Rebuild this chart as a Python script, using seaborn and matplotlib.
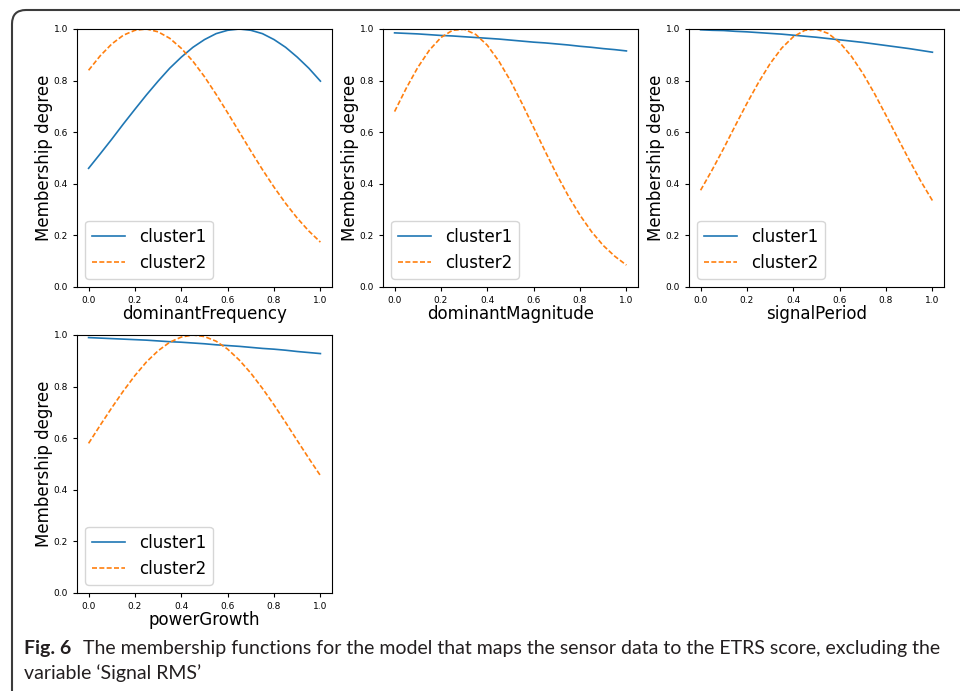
#!/usr/bin/env python3

'''
Funciones de pertenencia (clusters) para las variables del modelo ETRS.
'''

import matplotlib
matplotlib.use('Agg')
import matplotlib.pyplot as plt
from matplotlib.patches import FancyBboxPatch
import seaborn as sns

# valores, x de 0 a 1 cada 0.05
x_grid = [0.00, 0.05, 0.10, 0.15, 0.20, 0.25, 0.30, 0.35, 0.40, 0.45, 0.50,
          0.55, 0.60, 0.65, 0.70, 0.75, 0.80, 0.85, 0.90, 0.95, 1.00]

freq_c1 = [0.460, 0.516, 0.573, 0.632, 0.689, 0.745, 0.798, 0.848, 0.891, 0.929, 0.959,
           0.982, 0.995, 1.000, 0.995, 0.982, 0.959, 0.929, 0.891, 0.848, 0.798]
freq_c2 = [0.840, 0.896, 0.942, 0.976, 0.995, 1.000, 0.989, 0.964, 0.925, 0.875, 0.815,
           0.747, 0.675, 0.601, 0.527, 0.455, 0.387, 0.324, 0.267, 0.217, 0.174]

magn_c1 = [0.985, 0.983, 0.981, 0.978, 0.975, 0.973, 0.970, 0.967, 0.964, 0.961, 0.957,
           0.953, 0.949, 0.946, 0.942, 0.938, 0.933, 0.929, 0.924, 0.920, 0.915]
magn_c2 = [0.680, 0.770, 0.851, 0.918, 0.967, 0.995, 0.999, 0.979, 0.937, 0.875, 0.799,
           0.711, 0.618, 0.525, 0.435, 0.352, 0.278, 0.214, 0.161, 0.119, 0.085]

period_c1 = [0.997, 0.995, 0.994, 0.991, 0.989, 0.986, 0.983, 0.980, 0.976, 0.972, 0.968,
             0.963, 0.958, 0.953, 0.948, 0.942, 0.936, 0.930, 0.924, 0.917, 0.910]
period_c2 = [0.375, 0.454, 0.538, 0.626, 0.712, 0.793, 0.866, 0.926, 0.970, 0.995, 0.999,
             0.983, 0.948, 0.895, 0.828, 0.750, 0.665, 0.578, 0.492, 0.410, 0.335]

growth_c1 = [0.990, 0.988, 0.986, 0.984, 0.982, 0.980, 0.977, 0.974, 0.972, 0.969, 0.966,
             0.962, 0.959, 0.956, 0.952, 0.948, 0.945, 0.941, 0.936, 0.932, 0.928]
growth_c2 = [0.580, 0.650, 0.718, 0.783, 0.843, 0.896, 0.939, 0.972, 0.992, 1.000, 0.994,
             0.976, 0.945, 0.903, 0.852, 0.793, 0.729, 0.661, 0.591, 0.522, 0.455]

variables = ['dominantFrequency', 'dominantMagnitude', 'signalPeriod', 'powerGrowth']
series = [(freq_c1, freq_c2), (magn_c1, magn_c2), (period_c1, period_c2), (growth_c1, growth_c2)]
clusters = ['cluster1', 'cluster2']
ticks = [0.0, 0.2, 0.4, 0.6, 0.8, 1.0]

W, H = 960, 691
fig = plt.figure(figsize=(W / 100, H / 100), dpi=100)

# recuadro redondeado de la figura del articulo
marco = FancyBboxPatch((0.12, -1.0), 12.0, 7.81,
                       boxstyle='round,pad=0,rounding_size=0.14',
                       transform=fig.dpi_scale_trans, fill=False,
                       edgecolor='#3c3c3c', linewidth=1.5)
fig.add_artist(marco)

# posiciones de los ejes en pixeles: izquierda, arriba
posiciones = [(77, 29), (383, 29), (689, 29), (77, 335)]
ax_w, ax_h = 255, 258

for (izq, arr), nombre, (c1, c2) in zip(posiciones, variables, series):
    ax = fig.add_axes([izq / W, (H - arr - ax_h) / H, ax_w / W, ax_h / H])
    sns.lineplot(x=x_grid, y=c1, ax=ax, color='#1f77b4', linewidth=1.2,
                 label=clusters[0])
    sns.lineplot(x=x_grid, y=c2, ax=ax, color='#ff7f0e', linewidth=1.2,
                 linestyle=(0, (3.0, 1.4)), label=clusters[1])
    ax.set_ylim(0, 1)
    ax.set_xticks(ticks)
    ax.set_yticks(ticks)
    ax.tick_params(labelsize=6.5, length=3, width=0.8)
    ax.set_xlabel(nombre, fontsize=12)
    ax.set_ylabel('Membership degree', fontsize=12)
    ax.xaxis.set_label_coords(0.5, -0.068)
    ax.yaxis.set_label_coords(-0.094, 0.5)
    ax.legend(loc='lower left', fontsize=12)

# pie de figura
cap_font = ['Lato', 'DejaVu Sans']
fig.text(24 / W, 1 - 654 / H, 'Fig. 6', fontsize=14, fontweight='bold',
         family=cap_font, color='#231f20', va='baseline')
fig.text(83 / W, 1 - 654 / H,
         'The membership functions for the model that maps the sensor data to the ETRS score, excluding the',
         fontsize=14, family=cap_font, color='#231f20', va='baseline')
fig.text(24 / W, 1 - 679 / H, 'variable \u2018Signal RMS\u2019', fontsize=14,
         family=cap_font, color='#231f20', va='baseline')

fig.savefig('out.png', dpi=100)
